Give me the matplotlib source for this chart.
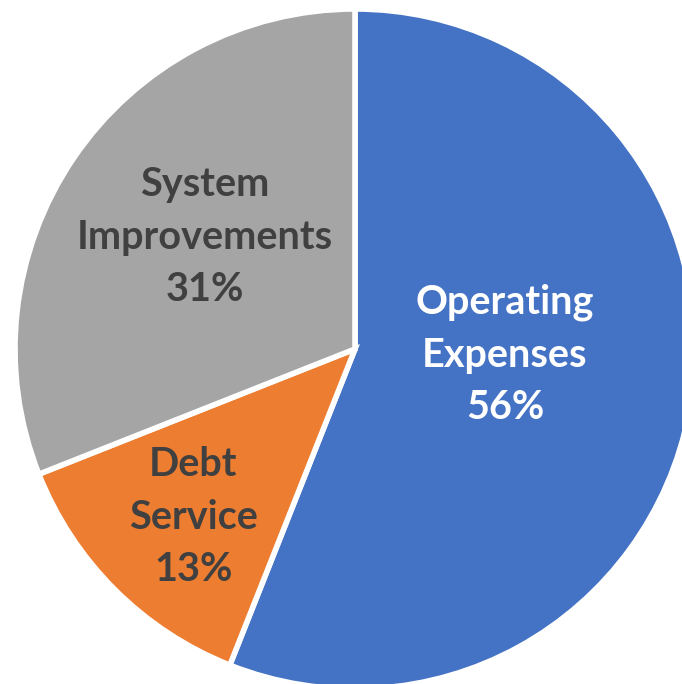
import matplotlib

matplotlib.use("Agg")
import matplotlib.pyplot as plt

categories = ["Operating\nExpenses", "Debt\nService", "System\nImprovements"]
shares = [56, 13, 31]
colors = ["#4472C4", "#ED7D31", "#A5A5A5"]
text_colors = ["white", "#404040", "#404040"]

# label anchor points in pie units (radius 1)
label_xy = [(0.441, -0.018), (-0.476, -0.495), (-0.441, 0.329)]

fig = plt.figure(figsize=(6.82, 6.84), dpi=100)
ax = fig.add_axes([0, 0, 1, 1])
ax.pie(shares, colors=colors, startangle=90, counterclock=False, radius=1.0,
       wedgeprops=dict(edgecolor="white", linewidth=4))

for name, pct, (x, y), tc in zip(categories, shares, label_xy, text_colors):
    ax.text(x, y, f"{name}\n{pct}%", ha="center", va="center", color=tc,
            fontsize=28.5, fontweight="bold", family=["Lato", "DejaVu Sans"],
            linespacing=1.52, multialignment="center")

ax.set_xlim(-355 / 340, 327 / 340)
ax.set_ylim((349 - 684) / 340, 349 / 340)
ax.set_aspect("equal")
ax.axis("off")
fig.savefig("out.png", dpi=100)
